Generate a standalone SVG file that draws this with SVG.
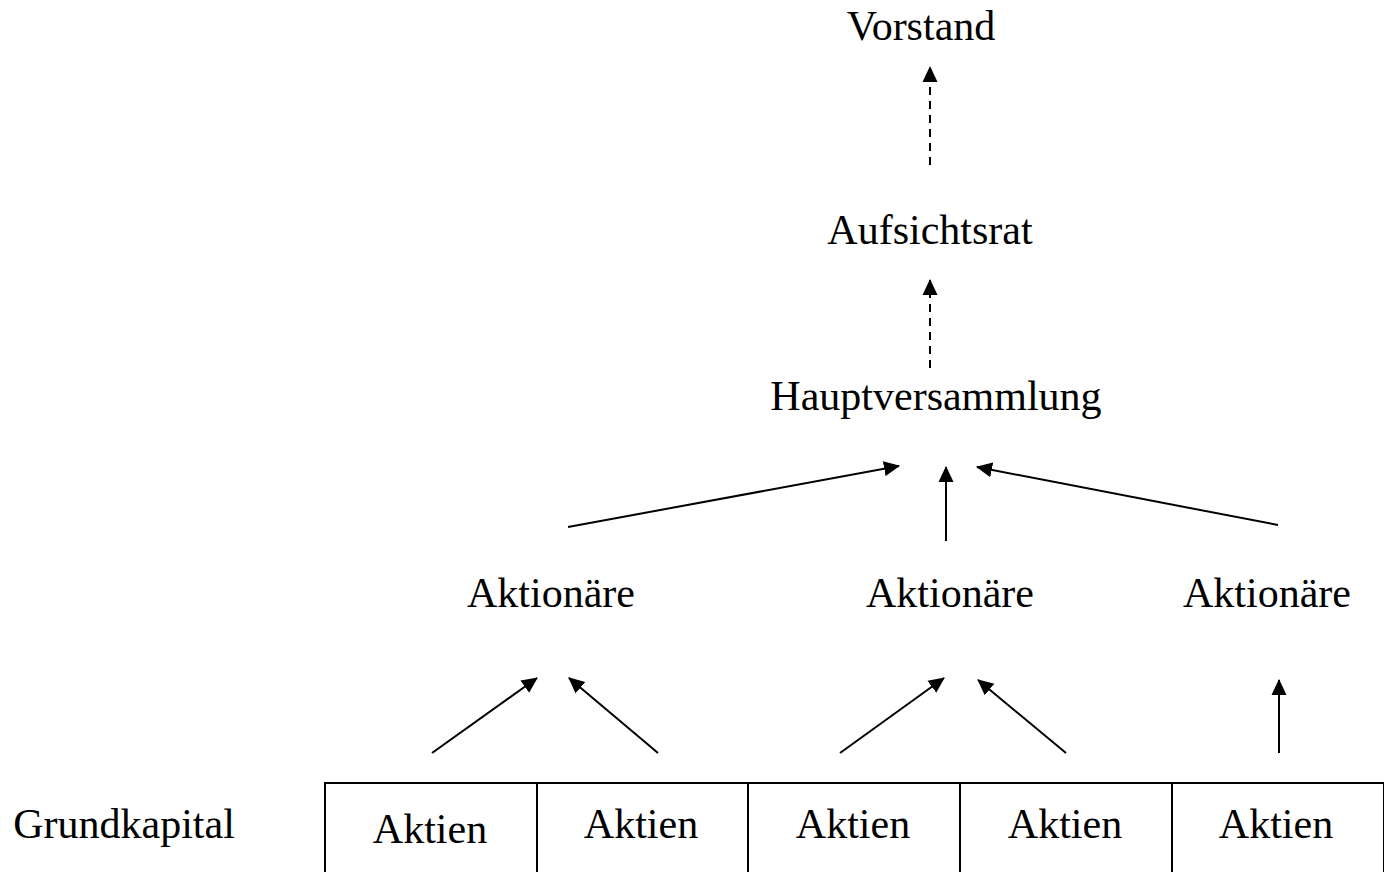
<svg xmlns="http://www.w3.org/2000/svg" width="1384" height="872" viewBox="0 0 1384 872">
  <style>
    .t { font-family: "Liberation Serif", "Times New Roman", serif; font-size: 42px; fill: #000; text-anchor: middle; }
    .c { stroke: #000; stroke-width: 2; fill: none; marker-end: url(#head); }
    .d { stroke-dasharray: 8 6; }
    .box { stroke: #000; stroke-width: 2; fill: #fff; }
  </style>
  <defs>
    <marker id="head" markerUnits="userSpaceOnUse" markerWidth="16" markerHeight="16" viewBox="0 0 16 16" refX="15" refY="8" orient="auto">
      <path d="M0,0.5 L16,8 L0,15.5 Z" fill="#000"/>
    </marker>
  </defs>

  <rect width="1384" height="872" fill="#fff"/>

  <!-- Organe -->
  <g id="vorstand"><text class="t" x="921" y="40">Vorstand</text></g>
  <g id="aufsichtsrat"><text class="t" x="930" y="244">Aufsichtsrat</text></g>
  <g id="hauptversammlung"><text class="t" x="936" y="410">Hauptversammlung</text></g>

  <!-- Aktionärsgruppen -->
  <g id="aktionaere-1"><text class="t" x="551" y="607">Aktionäre</text></g>
  <g id="aktionaere-2"><text class="t" x="950" y="607">Aktionäre</text></g>
  <g id="aktionaere-3"><text class="t" x="1267" y="607">Aktionäre</text></g>

  <!-- Grundkapital, aufgeteilt in Aktien -->
  <g id="grundkapital"><text class="t" x="124" y="838">Grundkapital</text></g>
  <g id="aktien-1"><rect class="box" x="325" y="783" width="212" height="100"/><text class="t" x="430" y="843">Aktien</text></g>
  <g id="aktien-2"><rect class="box" x="537" y="783" width="211" height="100"/><text class="t" x="641" y="838">Aktien</text></g>
  <g id="aktien-3"><rect class="box" x="748" y="783" width="212" height="100"/><text class="t" x="853" y="838">Aktien</text></g>
  <g id="aktien-4"><rect class="box" x="960" y="783" width="212" height="100"/><text class="t" x="1065" y="838">Aktien</text></g>
  <g id="aktien-5"><rect class="box" x="1172" y="783" width="212" height="100"/><text class="t" x="1276" y="838">Aktien</text></g>

  <!-- Verbindungen -->
  <g id="connectors">
    <line class="c d" x1="930" y1="165" x2="930" y2="67"/>
    <line class="c d" x1="930" y1="368" x2="930" y2="280"/>
    <line class="c" x1="568" y1="527" x2="899" y2="466"/>
    <line class="c" x1="946" y1="541" x2="946" y2="467"/>
    <line class="c" x1="1278" y1="525" x2="977" y2="467"/>
    <line class="c" x1="432" y1="753" x2="537" y2="678"/>
    <line class="c" x1="658" y1="753" x2="569" y2="678"/>
    <line class="c" x1="840" y1="753" x2="944" y2="678"/>
    <line class="c" x1="1066" y1="753" x2="978" y2="680"/>
    <line class="c" x1="1279" y1="753" x2="1279" y2="680"/>
  </g>
</svg>
